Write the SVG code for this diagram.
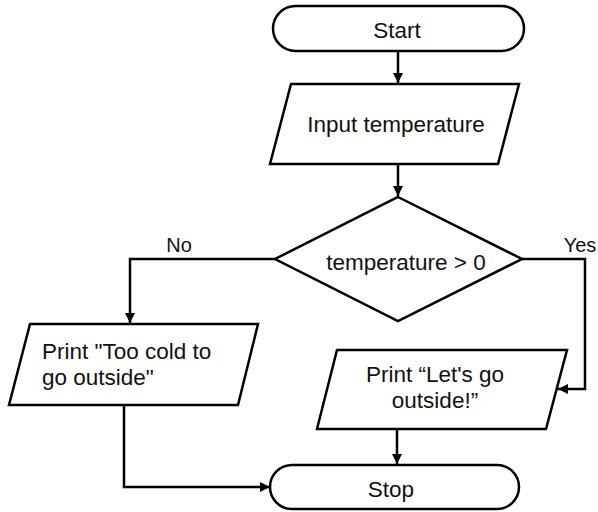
<svg xmlns="http://www.w3.org/2000/svg" width="598" height="512" viewBox="0 0 598 512">
  <style>
    .shape { fill: #ffffff; stroke: #000000; stroke-width: 2.5; stroke-linejoin: miter; }
    .wire { fill: none; stroke: #000000; stroke-width: 2.5; }
    .txt { font-family: "Liberation Sans", Arial, sans-serif; font-size: 22.5px; fill: #111111; }
    .lbl { font-family: "Liberation Sans", Arial, sans-serif; font-size: 20px; fill: #111111; }
  </style>
  <defs>
    <marker id="arrow" viewBox="0 0 10 10" refX="10" refY="5" markerWidth="4" markerHeight="4" markerUnits="strokeWidth" orient="auto">
      <path d="M0,0 L10,5 L0,10 Z" fill="#000000"/>
    </marker>
  </defs>
  <rect width="598" height="512" fill="#ffffff"/>

  <!-- connectors -->
  <g id="connectors">
    <path class="wire" d="M398,51 L398,83" marker-end="url(#arrow)"/>
    <path class="wire" d="M398,164 L398,196" marker-end="url(#arrow)"/>
    <path class="wire" d="M275,259 L130,259 L130,323" marker-end="url(#arrow)"/>
    <path class="wire" d="M522,259 L585,259 L585,389 L558,389" marker-end="url(#arrow)"/>
    <path class="wire" d="M124,405 L124,487 L270,487" marker-end="url(#arrow)"/>
    <path class="wire" d="M397,429 L397,464" marker-end="url(#arrow)"/>
    <text class="lbl" x="179" y="252" text-anchor="middle">No</text>
    <text class="lbl" x="580" y="252" text-anchor="middle">Yes</text>
  </g>

  <!-- start terminator -->
  <g id="start">
    <rect class="shape" x="273" y="6" width="251" height="45" rx="22.5" ry="22.5"/>
    <text class="txt" x="397" y="38" text-anchor="middle">Start</text>
  </g>

  <!-- input step -->
  <g id="input">
    <polygon class="shape" points="291,84 519,84 498,164 270,164"/>
    <text class="txt" x="396" y="132" text-anchor="middle">Input temperature</text>
  </g>

  <!-- decision -->
  <g id="decision">
    <polygon class="shape" points="398,197 522,259 398,321 275,259"/>
    <text class="txt" x="406" y="270" text-anchor="middle">temperature &gt; 0</text>
  </g>

  <!-- output when cold -->
  <g id="print-cold">
    <polygon class="shape" points="30,324 258,324 238,405 9,405"/>
    <text class="txt" x="42" y="359">Print "Too cold to</text>
    <text class="txt" x="42" y="385">go outside"</text>
  </g>

  <!-- output when warm -->
  <g id="print-warm">
    <polygon class="shape" points="337,350 567,350 546,429 317,429"/>
    <text class="txt" x="435" y="382" text-anchor="middle">Print “Let's go</text>
    <text class="txt" x="435" y="408" text-anchor="middle">outside!”</text>
  </g>

  <!-- stop terminator -->
  <g id="stop">
    <rect class="shape" x="270" y="465" width="249" height="44" rx="22" ry="22"/>
    <text class="txt" x="391" y="497" text-anchor="middle">Stop</text>
  </g>
</svg>
